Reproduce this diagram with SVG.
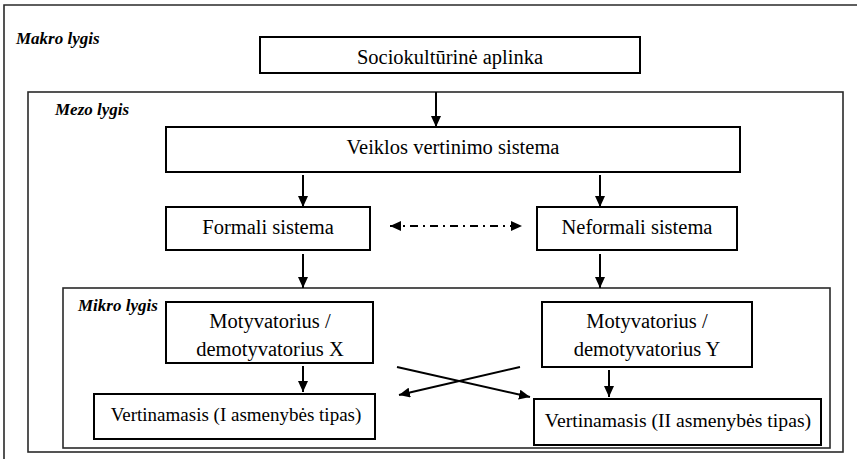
<svg xmlns="http://www.w3.org/2000/svg" width="857" height="459" viewBox="0 0 857 459" font-family="Liberation Serif, Times New Roman, serif">
  <style>
    .frame { fill: none; stroke: #2a2a2a; stroke-width: 1.6; }
    .box { fill: #ffffff; stroke: #000000; stroke-width: 2; }
    .lbl { font-size: 20.5px; fill: #000; text-anchor: middle; }
    .lvl { font-size: 17px; font-weight: bold; font-style: italic; fill: #000; }
    .arr { stroke: #000; stroke-width: 2; fill: none; marker-end: url(#head); }
    .dd { stroke: #000; stroke-width: 2; fill: none; stroke-dasharray: 8 5 2 5; marker-start: url(#headL); marker-end: url(#head); }
  </style>
  <defs>
    <marker id="head" markerUnits="userSpaceOnUse" markerWidth="11" markerHeight="10" refX="11" refY="5" orient="auto">
      <path d="M0,0 L11,5 L0,10 z" fill="#000"/>
    </marker>
    <marker id="headL" markerUnits="userSpaceOnUse" markerWidth="11" markerHeight="10" refX="0" refY="5" orient="auto">
      <path d="M11,0 L0,5 L11,10 z" fill="#000"/>
    </marker>
  </defs>

  <rect width="857" height="459" fill="#ffffff"/>

  <!-- level frames -->
  <g id="makro-lygis">
    <path class="frame" d="M4,470 L4,5 L870,5"/>
    <text class="lvl" x="16" y="44">Makro lygis</text>
  </g>
  <g id="mezo-lygis">
    <rect class="frame" x="28" y="92" width="815" height="360"/>
    <text class="lvl" x="55" y="115">Mezo lygis</text>
  </g>
  <g id="mikro-lygis">
    <rect class="frame" x="63" y="288" width="767" height="160"/>
    <text class="lvl" x="78" y="311">Mikro lygis</text>
  </g>

  <!-- nodes -->
  <g id="sociokulturine-aplinka">
    <rect class="box" x="260" y="37" width="380" height="36"/>
    <text class="lbl" x="450" y="64">Sociokultūrinė aplinka</text>
  </g>
  <g id="veiklos-vertinimo-sistema">
    <rect class="box" x="166" y="127" width="574" height="45"/>
    <text class="lbl" x="453" y="154">Veiklos vertinimo sistema</text>
  </g>
  <g id="formali-sistema">
    <rect class="box" x="166" y="207" width="204" height="43"/>
    <text class="lbl" x="268" y="234">Formali sistema</text>
  </g>
  <g id="neformali-sistema">
    <rect class="box" x="537" y="207" width="200" height="43"/>
    <text class="lbl" x="637" y="234">Neformali sistema</text>
  </g>
  <g id="motyvatorius-x">
    <rect class="box" x="166" y="302" width="207" height="61"/>
    <text class="lbl" x="270" y="328">Motyvatorius /</text>
    <text class="lbl" x="270" y="356">demotyvatorius X</text>
  </g>
  <g id="motyvatorius-y">
    <rect class="box" x="542" y="302" width="210" height="65"/>
    <text class="lbl" x="647" y="328">Motyvatorius /</text>
    <text class="lbl" x="647" y="356">demotyvatorius Y</text>
  </g>
  <g id="vertinamasis-i">
    <rect class="box" x="94" y="394" width="281" height="45"/>
    <text class="lbl" x="236" y="421" style="font-size:19px">Vertinamasis (I asmenybės tipas)</text>
  </g>
  <g id="vertinamasis-ii">
    <rect class="box" x="534" y="399" width="287" height="46"/>
    <text class="lbl" x="678" y="427" style="font-size:19.7px">Vertinamasis (II asmenybės tipas)</text>
  </g>

  <!-- connectors -->
  <g id="connectors">
    <line class="arr" x1="436" y1="92" x2="436" y2="127"/>
    <line class="arr" x1="303" y1="175" x2="303" y2="207"/>
    <line class="arr" x1="600" y1="175" x2="600" y2="207"/>
    <line class="dd" x1="390" y1="226" x2="522" y2="226"/>
    <line class="arr" x1="303" y1="254" x2="303" y2="288"/>
    <line class="arr" x1="600" y1="254" x2="600" y2="288"/>
    <line class="arr" x1="303" y1="366" x2="303" y2="392"/>
    <line class="arr" x1="609" y1="370" x2="609" y2="397"/>
    <line class="arr" x1="397" y1="367" x2="530" y2="397"/>
    <line class="arr" x1="520" y1="367" x2="399" y2="395"/>
  </g>
</svg>
